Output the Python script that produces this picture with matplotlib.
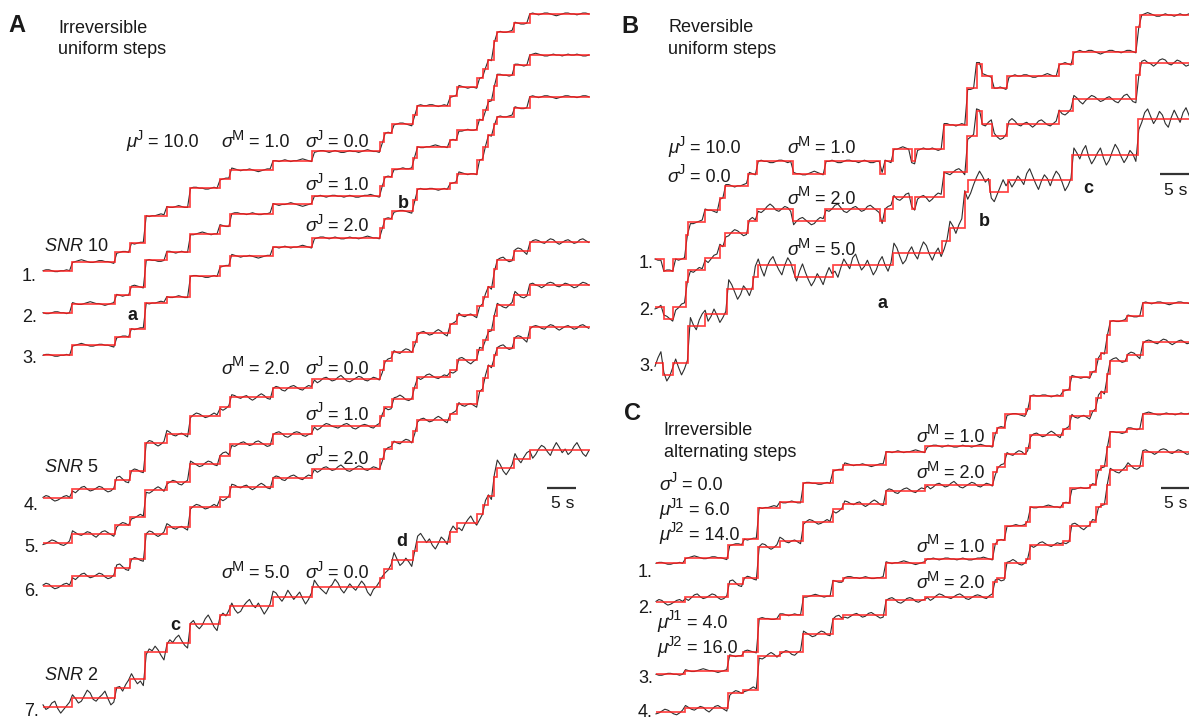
import numpy as np
import matplotlib.pyplot as plt

# figure size in pixels and drawing scales
W, H = 1189, 719
PX_PER_S = 5.9            # 5 s scale bar ~ 29.5 px
PX_PER_NM_A = 0.917
PX_PER_NM_B = 1.22
PX_PER_NM_C = 0.93
DT = 0.5                  # sampling interval of the noisy traces (s)

# ---------------- data ----------------
# dwell sequence shared by panels A and C (step times, s)
step_times_ac = [4.9, 12.2, 14.8, 17.3, 21.0, 24.9, 30.0, 31.7, 39.0, 45.6, 57.1, 57.8,
                 59.2, 62.7, 63.4, 69.0, 70.2, 73.6, 74.6, 75.4, 76.4, 77.0, 79.8, 82.5]
duration_ac = 92.7

# panel A fitted levels (nm): sigma_J = 0, 1, 2
levels_a_sj0 = [0, 10, 20, 30, 60, 70, 90, 100, 110, 120, 130, 140, 150, 160, 170, 180,
                190, 200, 210, 220, 230, 250, 260, 270, 280]
levels_a_sj1 = [0, 10, 19, 28, 57, 66, 86, 95, 108, 118, 127, 138, 148, 157, 169, 181,
                188, 199, 210, 221, 232, 247, 259, 270, 281]
levels_a_sj2 = [0, 11, 20, 29, 57, 64, 86, 97, 108, 118, 128, 139, 149, 157, 169, 181,
                188, 198, 213, 227, 240, 252, 260, 270, 282]

# panel C fitted levels (nm): alternating 6/14 and 4/16 nm steps
levels_c_6_14 = [0, 6, 20, 26, 60, 66, 86, 100, 106, 120, 126, 140, 146, 160, 166, 180,
                 186, 200, 206, 220, 226, 246, 260, 266, 280]
levels_c_4_16 = [0, 4, 20, 24, 60, 64, 84, 100, 104, 120, 124, 140, 144, 160, 164, 180,
                 184, 200, 204, 220, 224, 244, 260, 264, 280]

# panel B (reversible steps, 10 nm)
step_times_b12 = [1.5, 3.1, 5.3, 5.6, 8.5, 11.0, 11.9, 15.8, 17.3, 23.4, 28.8, 38.1, 39.0,
                  40.3, 43.5, 44.1, 48.9, 52.8, 54.5, 55.4, 57.1, 59.6, 68.5, 70.9, 81.6, 82.2]
levels_b12 = [0, -10, 0, 20, 30, 40, 50, 60, 70, 80, 70, 80, 70, 80, 90, 80, 90, 110, 140,
              160, 150, 140, 150, 160, 170, 190, 200]
step_times_b3 = [1.4, 3.1, 5.6, 8.5, 12.2, 16.6, 17.5, 23.7, 30.2, 40.3, 48.6, 50.0, 52.5,
                 53.1, 56.8, 59.8, 70.6, 81.9]
levels_b3 = [0, -10, 0, 30, 40, 60, 70, 80, 70, 80, 90, 100, 110, 140, 150, 140, 150, 170, 200]
duration_b = 91.5

noise_m1a = [0, 1, 1, 0, -1, -1, 0, 0, 1, 0, -1, 0, 1, 2, 1, 0, -1, -1, 0, 1,
             1, 0, 0, -1, -2, -1, 0, 1, 1, 0, 0, -1, 0, 1, 1, 0, -1, 0, 0, 1,
             2, 1, 0, -1, -1, 0, 1, 0, -1, -1, 0, 1, 1, 0, 0, -1, -1, 0, 1, 0,
             -1, 0, 1, 1, 2, 1, 0, -1, 0, 0, 1, 0, -1, -2, -1, 0, 1, 1, 0, 0,
             -1, 0, 1, 0, -1, 0, 0, 1, 2, 1, 0, -1, -1, 0, 1, 1, 0, -1, 0, 1,
             0, -1, -1, 0, 1, 0, 0, -1, 0, 1, 2, 1, 0, 0, -1, -1, 0, 1, 0, -1,
             0, 1, 1, 0, -1, -2, -1, 0, 1, 0, 0, 1, 1, 0, -1, 0, 1, 0, -1, 0,
             1, 2, 1, 0, -1, 0, 0, -1, 0, 1, 1, 0, -1, -1, 0, 1, 0, 0, 1, 2,
             1, 0, -1, -1, 0, 0, 1, 0, -1, 0, 1, 1, 0, -1, -2, -1, 0, 1, 1, 0,
             0, -1, 0, 1, 1, 0, -1, 0, 1, 0]
noise_m1b = [0, -1, -1, 0, 1, 1, 0, 0, -1, 0, 1, 0, -1, -1, 0, 1, 2, 1, 0, 0,
             -1, -2, -1, 0, 1, 1, 0, -1, 0, 0, 1, 2, 1, 0, -1, 0, 1, 0, 0, -1,
             -1, 0, 1, 1, 0, -1, 0, 1, 0, 0, -1, -1, 0, 1, 2, 1, 0, -1, 0, 0,
             1, 0, -1, -1, 0, 1, 1, 0, 0, -1, 0, 1, 0, -1, -1, 0, 0, 1, 1, 0,
             -1, 0, 0, 1, 2, 1, 0, -1, -2, -1, 0, 1, 0, 0, 1, 0, -1, 0, 1, 1,
             0, 0, -1, 0, 1, 0, -1, -1, 0, 1, 1, 2, 1, 0, -1, 0, 0, 1, 0, -1,
             -1, 0, 1, 0, 0, 1, 1, 0, -1, -1, 0, 0, 1, 2, 1, 0, 0, -1, 0, 1,
             0, -1, -1, 0, 1, 0, 0, 1, 1, 0, -1, -2, -1, 0, 1, 1, 0, 0, -1, 0,
             1, 1, 0, -1, 0, 0, 1, 2, 1, 0, -1, -1, 0, 1, 0, 0, -1, 0, 1, 0,
             0, 1, 0, -1, -1, 0, 1, 1, 0, -1]
noise_m2a = [1, 3, 2, -1, -3, -2, 0, 2, 3, 1, -2, -4, -1, 2, 3, 0, -2, -1, 1, 3,
             2, -1, -3, -2, 1, 3, 4, 1, -2, -3, 0, 2, 1, -1, -2, 0, 3, 2, -1, -3,
             -1, 2, 4, 2, -1, -2, 0, 1, -1, -3, -2, 1, 3, 2, 0, -2, -1, 1, 3, 1,
             -2, -4, -2, 1, 3, 2, 0, -1, 1, 2, -1, -3, -1, 2, 4, 2, -1, -2, 0, 2,
             1, -2, -3, 0, 2, 3, 1, -1, -2, 1, 3, 2, -1, -4, -2, 1, 2, 0, -2, -1,
             2, 4, 1, -2, -3, -1, 1, 3, 2, -1, -2, 0, 2, 1, -1, -3, -1, 2, 3, 1,
             -1, -2, 1, 3, 2, -1, -3, -2, 1, 2, 0, -2, -1, 2, 4, 2, -1, -3, -1, 1,
             3, 2, -1, -2, 0, 1, -1, -3, -1, 2, 3, 1, -2, -3, 0, 2, 3, 0, -2, -1,
             1, 3, 2, -1, -4, -2, 1, 2, 1, -1, -2, 1, 3, 2, -1, -3, -1, 1, 2, 0,
             -2, -1, 2, 3, 1, -1, -3, -1, 2, 2]
noise_m2b = [-2, -1, 1, 3, 2, 0, -2, -3, -1, 2, 3, 1, -1, -2, 0, 2, 1, -2, -4, -1,
             2, 3, 1, -1, -3, -2, 1, 3, 2, 0, -2, -1, 1, 3, 1, -2, -3, -1, 2, 4,
             2, -1, -2, 0, 2, 1, -2, -3, 0, 2, 3, 1, -1, -3, -2, 1, 3, 2, -1, -2,
             0, 3, 4, 1, -2, -3, -1, 1, 2, 0, -2, -1, 2, 3, 1, -1, -3, -2, 0, 2,
             3, 1, -2, -3, -1, 2, 3, 2, -1, -2, 0, 1, -1, -4, -2, 1, 3, 2, 0, -1,
             -2, 0, 2, 3, 1, -2, -3, -1, 1, 2, 1, -1, -2, 1, 3, 2, -1, -3, -2, 1,
             2, 4, 2, -1, -2, 0, 1, -1, -3, -1, 2, 3, 1, -1, -2, 0, 2, 1, -2, -3,
             -1, 2, 3, 1, -2, -4, -1, 1, 3, 2, 0, -2, -1, 1, 2, 0, -2, -3, 0, 3,
             4, 1, -2, -3, -1, 1, 2, 0, -1, -3, -1, 2, 3, 2, -1, -2, 0, 2, 1, -1,
             -3, -2, 1, 3, 2, 0, -2, -1, 1, 2]
noise_m5a = [2, -3, -1, 4, 6, -2, -7, -3, 1, 5, 3, -1, -6, -4, 2, 8, 5, -2, -4, 0,
             3, 7, -1, -8, -5, 1, 2, -3, 4, 9, 6, 0, -5, -2, -7, -3, 3, 1, 6, 2,
             -4, -9, -2, 3, 0, 5, 8, 2, -3, -6, 1, 4, -2, -5, -1, 6, 10, 4, -3, -7,
             -2, 2, -1, 5, 3, -4, -8, -6, 0, 4, 7, 1, -2, 3, -3, -9, -4, 2, 6, 4,
             -1, -5, 0, 7, 2, -3, 1, 5, -2, -8, -3, 4, 8, 3, -1, -4, -7, 0, 3, 9,
             5, -2, -6, -1, 4, 0, -3, 2, 7, 3, -5, -9, -2, 1, 6, 2, -4, -1, 5, 8,
             1, -6, -3, 2, -2, -7, 0, 6, 9, 4, -1, 3, -4, -8, -2, 5, 2, -3, 1, 7,
             3, -5, -8, -1, 4, 8, 2, -2, -6, 0, 5, 1, -4, 3, 9, 4, -3, -7, -2, 4,
             6, 0, -4, 2, 7, -1, -9, -5, 1, 5, 3, -2, -6, 2, 8, 3, -3, 1, -5, -2,
             4, 8, 2, -4, -7, -1, 3, 6, -2, -5]
noise_m5b = [-3, 4, 9, 2, -5, -1, 6, 3, -4, -10, -5, 2, 7, 1, -3, 5, 10, 3, -6, -2,
             4, -1, -7, -3, 2, 8, 4, -2, -8, -4, 3, 0, -5, 2, 9, 5, -3, -9, -1, 4,
             7, 1, -4, -8, 0, 6, 2, -6, -3, 5, 11, 4, -2, -7, -3, 3, -1, -6, 2, 8,
             3, -5, -10, -2, 5, 1, -3, 6, 9, 2, -4, -1, 4, -2, -8, -4, 3, 7, 0, -5,
             2, 8, 4, -3, -9, -6, 1, 5, -1, -5, 3, 9, 6, -1, -6, 0, 4, -3, -7, 1,
             6, 2, -4, 3, 8, 1, -6, -11, -4, 2, 7, 3, -2, 1, -5, -8, -2, 4, 10, 5,
             -1, -6, -2, 3, 0, -4, 5, 9, 3, -3, -8, -1, 4, 1, -5, 2, 7, 4, -2, -9,
             -5, 1, 6, 2, -3, 4, 8, -1, -7, -3, 2, 6, -2, -8, -4, 3, 9, 5, -1, -6,
             -2, 4, 1, -5, -9, -3, 5, 8, 2, -4, 0, 6, 3, -4, -7, 1, 7, 2, -3, 5,
             9, 3, -4, -8, -2, 4, 1, -5, 2, 6]

# ---------------- layout (trace origins in pixels) ----------------
traces_a = [  # levels, noise, x0, y0
    (levels_a_sj0, noise_m1a, 43, 270.7),
    (levels_a_sj1, noise_m1b, 43, 312.7),
    (levels_a_sj2, noise_m1a, 43, 355.3),
    (levels_a_sj0, noise_m2a, 43, 498.3),
    (levels_a_sj1, noise_m2b, 43, 542.7),
    (levels_a_sj2, noise_m2a, 43, 586.0),
    (levels_a_sj0, noise_m5a, 43, 706.7),
]
traces_b = [  # times, levels, noise, x0, y0
    (step_times_b12, levels_b12, noise_m1b, 655, 259.0),
    (step_times_b12, levels_b12, noise_m2b, 655, 306.5),
    (step_times_b3, levels_b3, noise_m5b, 655, 362.7),
]
traces_c = [
    (levels_c_6_14, noise_m1a, 656, 563.3),
    (levels_c_6_14, noise_m2a, 656, 602.3),
    (levels_c_4_16, noise_m1b, 656, 674.3),
    (levels_c_4_16, noise_m2b, 656, 712.0),
]

RED = '#ff2020'
DARK = '#2e2e2e'
TXT = '#1a1a1a'

plt.rcParams['font.family'] = ['Liberation Sans', 'DejaVu Sans']
plt.rcParams['mathtext.fontset'] = 'custom'
plt.rcParams['mathtext.rm'] = 'Liberation Sans'
plt.rcParams['mathtext.it'] = 'Liberation Sans:italic'

fig = plt.figure(figsize=(W / 100, H / 100), dpi=100)
fig.patch.set_facecolor('white')
renderer = fig.canvas.get_renderer()


def panel_axes(px_per_nm):
    ax = fig.add_axes([0, 0, 1, 1])
    ax.set_xlim(0, W / PX_PER_S)
    ax.set_ylim(0, H / px_per_nm)
    ax.axis('off')
    ax.patch.set_alpha(0)
    return ax


def draw_trace(ax, px_per_nm, times, levels, noise, duration, x0, y0):
    t0 = x0 / PX_PER_S
    b0 = (H - y0) / px_per_nm
    levels = np.asarray(levels, dtype=float)
    edges = np.concatenate([[0.0], times, [duration]]) + t0
    ax.stairs(levels + b0, edges, baseline=None, color=RED, lw=1.25, alpha=0.85, zorder=3)
    n = min(len(noise), int(duration / DT) + 1)
    t = np.arange(n) * DT
    y = levels[np.searchsorted(times, t, side='right')] + np.asarray(noise[:n])
    ax.plot(t + t0, y + b0, color=DARK, lw=0.8, zorder=2)


def scale_bar(ax, px_per_nm, x, y):
    t = x / PX_PER_S
    v = (H - y) / px_per_nm
    ax.plot([t, t + 5], [v, v], color='#333333', lw=1.6, solid_capstyle='butt')


ax_a = panel_axes(PX_PER_NM_A)
for lv, nz, x0, y0 in traces_a:
    draw_trace(ax_a, PX_PER_NM_A, step_times_ac, lv, nz, duration_ac, x0, y0)
scale_bar(ax_a, PX_PER_NM_A, 546.5, 487.5)

ax_b = panel_axes(PX_PER_NM_B)
for tm, lv, nz, x0, y0 in traces_b:
    draw_trace(ax_b, PX_PER_NM_B, tm, lv, nz, duration_b, x0, y0)
scale_bar(ax_b, PX_PER_NM_B, 1160, 173.5)

ax_c = panel_axes(PX_PER_NM_C)
for lv, nz, x0, y0 in traces_c:
    draw_trace(ax_c, PX_PER_NM_C, step_times_ac, lv, nz, duration_ac, x0, y0)
scale_bar(ax_c, PX_PER_NM_C, 1160.5, 487.5)


def label(x, y, s, size=12.5, **kw):
    return fig.text(x / W, 1 - y / H, s, fontsize=size, color=TXT, va='baseline',
                    ha='left', **kw)


def param(x, y, greek, sup, rest):
    """Italic greek symbol with a raised upright superscript, then '= value'."""
    g = label(x, y, greek, size=13.5, style='italic')
    xs = x + g.get_window_extent(renderer).width - 0.5
    s = label(xs, y - 7.5, sup, size=10.5)
    xr = xs + s.get_window_extent(renderer).width + 5
    label(xr, y, rest, size=13)


MU, SIG = '\u03bc', '\u03c3'

# panel A
label(8, 32, 'A', size=17, fontweight='bold')
label(58, 33, 'Irreversible', size=13)
label(58, 53.5, 'uniform steps', size=13)
param(126, 147, MU, 'J', '= 10.0')
param(221, 147, SIG, 'M', '= 1.0')
param(305, 147, SIG, 'J', '= 0.0')
param(305, 190.5, SIG, 'J', '= 1.0')
param(305, 231, SIG, 'J', '= 2.0')
label(398, 208, 'b', size=13, fontweight='bold')
label(44, 251, r'$\mathit{SNR}$ 10', size=13)
label(22, 281, '1.', size=13)
label(22, 322, '2.', size=13)
label(128, 320, 'a', size=13, fontweight='bold')
label(22, 363, '3.', size=13)
param(221, 373.5, SIG, 'M', '= 2.0')
param(305, 373.5, SIG, 'J', '= 0.0')
param(305, 420, SIG, 'J', '= 1.0')
param(305, 464, SIG, 'J', '= 2.0')
label(44, 472, r'$\mathit{SNR}$ 5', size=13)
label(24, 510, '4.', size=13)
label(24, 552, '5.', size=13)
label(24, 596, '6.', size=13)
label(551, 508, '5 s', size=12.5)
label(396, 546, 'd', size=13, fontweight='bold')
param(221, 578.5, SIG, 'M', '= 5.0')
param(305, 578.5, SIG, 'J', '= 0.0')
label(170, 630, 'c', size=13, fontweight='bold')
label(44, 680, r'$\mathit{SNR}$ 2', size=13)
label(24, 716, '7.', size=13)

# panel B
label(621, 33, 'B', size=17, fontweight='bold')
label(668, 32, 'Reversible', size=13)
label(668, 54, 'uniform steps', size=13)
param(668, 153, MU, 'J', '= 10.0')
param(667, 181.5, SIG, 'J', '= 0.0')
param(787, 153, SIG, 'M', '= 1.0')
param(787, 204, SIG, 'M', '= 2.0')
param(787, 255, SIG, 'M', '= 5.0')
label(639, 268, '1.', size=13)
label(639, 315, '2.', size=13)
label(639, 371, '3.', size=13)
label(878, 308, 'a', size=13, fontweight='bold')
label(979, 226, 'b', size=13, fontweight='bold')
label(1083, 193, 'c', size=13, fontweight='bold')
label(1163.5, 195, '5 s', size=12.5)

# panel C
label(624, 420, 'C', size=17, fontweight='bold')
label(663.5, 435, 'Irreversible', size=13)
label(663.5, 457, 'alternating steps', size=13)
param(659, 490, SIG, 'J', '= 0.0')
param(659, 515, MU, 'J1', '= 6.0')
param(659, 540, MU, 'J2', '= 14.0')
label(638, 577, '1.', size=13)
label(638, 613, '2.', size=13)
param(657, 628, MU, 'J1', '= 4.0')
param(657, 653, MU, 'J2', '= 16.0')
label(638, 683, '3.', size=13)
label(638, 717, '4.', size=13)
param(916.5, 442, SIG, 'M', '= 1.0')
param(916.5, 478.5, SIG, 'M', '= 2.0')
param(916.5, 552, SIG, 'M', '= 1.0')
param(916.5, 588.5, SIG, 'M', '= 2.0')
label(1164, 508, '5 s', size=12.5)

fig.savefig('out.png', dpi=100, facecolor='white')
